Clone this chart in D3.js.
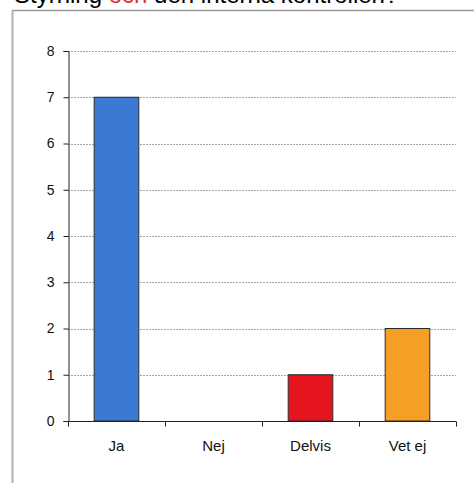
<!DOCTYPE html>
<html>
<head>
<meta charset="utf-8">
<script src="https://cdn.jsdelivr.net/npm/d3@7"></script>
<style>
  html, body { margin: 0; padding: 0; background: #fff; }
  svg { display: block; }
</style>
</head>
<body>
<svg id="chart" width="474" height="483"></svg>
<script>
// Answers and counts
const categories = ["Ja", "Nej", "Delvis", "Vet ej"];
const counts = [7, 0, 1, 2];
const barColors = ["#3b79d4", "#3b79d4", "#e5141f", "#f5a024"];
const yTicks = [0, 1, 2, 3, 4, 5, 6, 7, 8];
const titleParts = [
  { text: "Styrning ", color: "#000" },
  { text: "och ", color: "#e0302a" },
  { text: "den interna kontrollen?", color: "#000" }
];

const svg = d3.select("#chart");
const font = "'Liberation Sans', Arial, sans-serif";

// Heading runs off the top of the sheet; only its lower edge shows
const title = svg.append("text")
  .attr("x", 14).attr("y", 3)
  .attr("font-family", font).attr("font-size", 24);
title.selectAll("tspan").data(titleParts).join("tspan")
  .attr("fill", d => d.color)
  .text(d => d.text);

// Outer frame
svg.append("line").attr("x1", 12).attr("x2", 474).attr("y1", 10.5).attr("y2", 10.5)
  .attr("stroke", "#9a9a9a").attr("stroke-width", 1.5);
svg.append("line").attr("x1", 12.5).attr("x2", 12.5).attr("y1", 10).attr("y2", 483)
  .attr("stroke", "#b0b0b0").attr("stroke-width", 2);

const plotLeft = 68, plotRight = 456, plotTop = 51, plotBottom = 421;

const x = d3.scaleBand().domain(categories).range([plotLeft, plotRight]).paddingInner(0.54).paddingOuter(0.27);
const y = d3.scaleLinear().domain([0, 8]).range([plotBottom, plotTop]);

// Gridlines
svg.append("g").selectAll("line").data(yTicks.filter(t => t > 0)).join("line")
  .attr("x1", plotLeft).attr("x2", plotRight)
  .attr("y1", d => Math.round(y(d)) + 0.5).attr("y2", d => Math.round(y(d)) + 0.5)
  .attr("stroke", "#a8a8a8").attr("stroke-width", 1).attr("stroke-dasharray", "2,1");

// Bars
svg.append("g").selectAll("rect").data(counts).join("rect")
  .attr("x", (d, i) => x(categories[i]))
  .attr("width", x.bandwidth())
  .attr("y", d => y(d))
  .attr("height", d => y(0) - y(d))
  .attr("fill", (d, i) => barColors[i])
  .attr("stroke", "#2a2a2a").attr("stroke-width", d => d > 0 ? 1 : 0);

// Y axis
const yAxis = svg.append("g")
  .attr("transform", `translate(${plotLeft + 0.5},0)`)
  .call(d3.axisLeft(y).tickValues(yTicks).tickSize(5).tickPadding(9).tickFormat(d3.format("d")));
yAxis.select(".domain").attr("stroke", "#222");
yAxis.selectAll(".tick line").attr("stroke", "#222");
yAxis.selectAll("text").attr("font-family", font).attr("font-size", 14).attr("fill", "#111");

// X axis with ticks between categories
const xAxis = svg.append("g").attr("transform", `translate(0,${plotBottom + 0.5})`);
xAxis.append("line").attr("x1", plotLeft).attr("x2", plotRight).attr("stroke", "#222");
const step = (plotRight - plotLeft) / categories.length;
xAxis.selectAll(".sep").data(d3.range(categories.length + 1)).join("line")
  .attr("class", "sep")
  .attr("x1", i => plotLeft + i * step + 0.5).attr("x2", i => plotLeft + i * step + 0.5)
  .attr("y1", 0).attr("y2", 5).attr("stroke", "#222");
xAxis.selectAll(".lbl").data(categories).join("text")
  .attr("class", "lbl")
  .attr("x", d => x(d) + x.bandwidth() / 2)
  .attr("y", 29)
  .attr("text-anchor", "middle")
  .attr("font-family", font).attr("font-size", 15).attr("fill", "#111")
  .text(d => d);
</script>
</body>
</html>
